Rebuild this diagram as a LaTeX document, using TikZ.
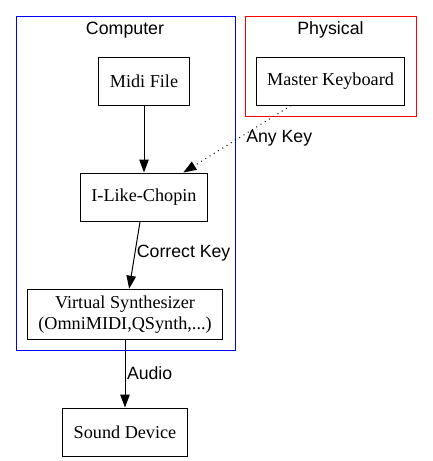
\documentclass[tikz,border=0pt]{standalone}
\usepackage{fontspec}
\setmainfont{Liberation Serif}
\newfontfamily\lblfont{Liberation Sans}
\usepackage{tikz}
\usetikzlibrary{arrows.meta, positioning}
\tikzset{
  box/.style={rectangle, draw=black, line width=1pt, minimum height=48pt, inner xsep=11pt, inner ysep=6.5pt, align=center, font=\fontsize{18.2}{21}\selectfont},
  cluster/.style={line width=1pt},
  clustertitle/.style={font=\lblfont\fontsize{17.8}{20}\selectfont},
  edgelabel/.style={font=\lblfont\fontsize{17.7}{20}\selectfont, anchor=west, inner sep=1.5pt},
  arrow/.style={line width=1pt, -{Triangle[length=13pt, width=9.5pt]}}
}
\begin{document}
\begin{tikzpicture}[x=1pt, y=-1pt]
    \useasboundingbox (0,0) rectangle (432,461);

    % Grupos
    \draw [cluster, blue] (16,16) rectangle (235,350);
    \node (tcomp) [clustertitle] at (125,30) {Computer};
    \draw [cluster, red] (245,16) rectangle (416,116);
    \node (tphys) [clustertitle] at (330.5,30) {Physical};

    % Nodos
    \node (midi) [box] at (144,81) {Midi File};
    \node (keyb) [box] at (330.5,81) {Master Keyboard};
    \node (chopin) [box] at (144,197) {I-Like-Chopin};
    \node (synth) [box] at (125,314.5) {Virtual Synthesizer\\(OmniMIDI,QSynth,...)};
    \node (sound) [box] at (125,432) {Sound Device};

    % Conexiones
    \draw [arrow] (midi) -- (chopin);
    \draw [arrow, dash pattern=on 1pt off 4pt] (keyb) -- node [edgelabel, pos=0.49, xshift=6pt] {Any Key} (chopin);
    \draw [arrow] (chopin) -- node [edgelabel, pos=0.47] {Correct Key} (synth);
    \draw [arrow] (synth) -- node [edgelabel, pos=0.485] {Audio} (sound);
\end{tikzpicture}
\end{document}
